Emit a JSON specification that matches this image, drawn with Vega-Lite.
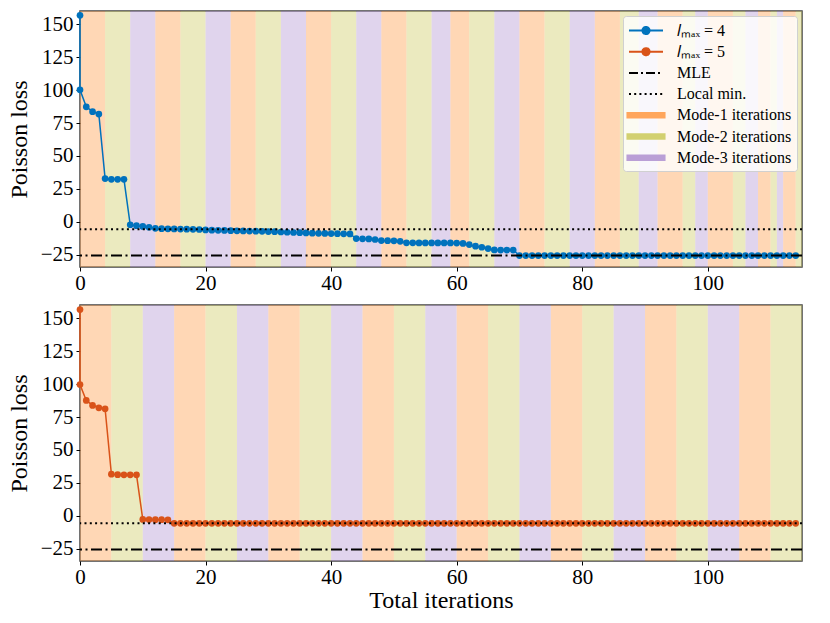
{
  "$schema": "https://vega.github.io/schema/vega-lite/v6.json",
  "background": "white",
  "padding": {"left": 6, "top": 10, "right": 5, "bottom": 5},
  "spacing": 38,
  "bounds": "flush",
  "datasets": {
    "bands_top": [
      {"start": 0, "end": 4, "key": "Mode-1 iterations"},
      {"start": 4, "end": 8, "key": "Mode-2 iterations"},
      {"start": 8, "end": 12, "key": "Mode-3 iterations"},
      {"start": 12, "end": 16, "key": "Mode-1 iterations"},
      {"start": 16, "end": 20, "key": "Mode-2 iterations"},
      {"start": 20, "end": 24, "key": "Mode-3 iterations"},
      {"start": 24, "end": 28, "key": "Mode-1 iterations"},
      {"start": 28, "end": 32, "key": "Mode-2 iterations"},
      {"start": 32, "end": 36, "key": "Mode-3 iterations"},
      {"start": 36, "end": 40, "key": "Mode-1 iterations"},
      {"start": 40, "end": 44, "key": "Mode-2 iterations"},
      {"start": 44, "end": 48, "key": "Mode-3 iterations"},
      {"start": 48, "end": 52, "key": "Mode-1 iterations"},
      {"start": 52, "end": 56, "key": "Mode-2 iterations"},
      {"start": 56, "end": 59, "key": "Mode-3 iterations"},
      {"start": 59, "end": 62, "key": "Mode-1 iterations"},
      {"start": 62, "end": 66, "key": "Mode-2 iterations"},
      {"start": 66, "end": 70, "key": "Mode-3 iterations"},
      {"start": 70, "end": 74, "key": "Mode-1 iterations"},
      {"start": 74, "end": 78, "key": "Mode-2 iterations"},
      {"start": 78, "end": 82, "key": "Mode-3 iterations"},
      {"start": 82, "end": 86, "key": "Mode-1 iterations"},
      {"start": 86, "end": 89, "key": "Mode-2 iterations"},
      {"start": 89, "end": 92, "key": "Mode-3 iterations"},
      {"start": 92, "end": 96, "key": "Mode-1 iterations"},
      {"start": 96, "end": 98, "key": "Mode-2 iterations"},
      {"start": 98, "end": 100, "key": "Mode-3 iterations"},
      {"start": 100, "end": 104, "key": "Mode-1 iterations"},
      {"start": 104, "end": 106, "key": "Mode-2 iterations"},
      {"start": 106, "end": 108, "key": "Mode-3 iterations"},
      {"start": 108, "end": 110, "key": "Mode-1 iterations"},
      {"start": 110, "end": 111, "key": "Mode-2 iterations"},
      {"start": 111, "end": 112, "key": "Mode-3 iterations"},
      {"start": 112, "end": 114, "key": "Mode-1 iterations"},
      {"start": 114, "end": 115, "key": "Mode-2 iterations"}
    ],
    "bands_bottom": [
      {"start": 0, "end": 5, "key": "Mode-1 iterations"},
      {"start": 5, "end": 10, "key": "Mode-2 iterations"},
      {"start": 10, "end": 15, "key": "Mode-3 iterations"},
      {"start": 15, "end": 20, "key": "Mode-1 iterations"},
      {"start": 20, "end": 25, "key": "Mode-2 iterations"},
      {"start": 25, "end": 30, "key": "Mode-3 iterations"},
      {"start": 30, "end": 35, "key": "Mode-1 iterations"},
      {"start": 35, "end": 40, "key": "Mode-2 iterations"},
      {"start": 40, "end": 45, "key": "Mode-3 iterations"},
      {"start": 45, "end": 50, "key": "Mode-1 iterations"},
      {"start": 50, "end": 55, "key": "Mode-2 iterations"},
      {"start": 55, "end": 60, "key": "Mode-3 iterations"},
      {"start": 60, "end": 65, "key": "Mode-1 iterations"},
      {"start": 65, "end": 70, "key": "Mode-2 iterations"},
      {"start": 70, "end": 75, "key": "Mode-3 iterations"},
      {"start": 75, "end": 80, "key": "Mode-1 iterations"},
      {"start": 80, "end": 85, "key": "Mode-2 iterations"},
      {"start": 85, "end": 90, "key": "Mode-3 iterations"},
      {"start": 90, "end": 95, "key": "Mode-1 iterations"},
      {"start": 95, "end": 100, "key": "Mode-2 iterations"},
      {"start": 100, "end": 105, "key": "Mode-3 iterations"},
      {"start": 105, "end": 110, "key": "Mode-1 iterations"},
      {"start": 110, "end": 115, "key": "Mode-2 iterations"}
    ],
    "refs": [
      {"key": "MLE", "y": -25.7},
      {"key": "Local min.", "y": -5.8}
    ],
    "lmax4": [
      {"i": 0, "x": 0, "y": 156.8}, {"i": 1, "x": 0, "y": 100.2}, {"i": 2, "x": 1, "y": 87.3}, {"i": 3, "x": 2, "y": 83.6},
      {"i": 4, "x": 3, "y": 81.8}, {"i": 5, "x": 4, "y": 32.8}, {"i": 6, "x": 5, "y": 32.2}, {"i": 7, "x": 6, "y": 32.2},
      {"i": 8, "x": 7, "y": 32.2}, {"i": 9, "x": 8, "y": -2.3}, {"i": 10, "x": 9, "y": -3.0}, {"i": 11, "x": 10, "y": -3.6},
      {"i": 12, "x": 11, "y": -4.2}, {"i": 13, "x": 12, "y": -5.0}, {"i": 14, "x": 13, "y": -5.3}, {"i": 15, "x": 14, "y": -5.4},
      {"i": 16, "x": 15, "y": -5.5}, {"i": 17, "x": 16, "y": -5.6}, {"i": 18, "x": 17, "y": -5.7}, {"i": 19, "x": 18, "y": -5.8},
      {"i": 20, "x": 19, "y": -5.9}, {"i": 21, "x": 20, "y": -6.2}, {"i": 22, "x": 21, "y": -6.4}, {"i": 23, "x": 22, "y": -6.5},
      {"i": 24, "x": 23, "y": -6.6}, {"i": 25, "x": 24, "y": -6.8}, {"i": 26, "x": 25, "y": -6.9}, {"i": 27, "x": 26, "y": -7.0},
      {"i": 28, "x": 27, "y": -7.1}, {"i": 29, "x": 28, "y": -7.2}, {"i": 30, "x": 29, "y": -7.3}, {"i": 31, "x": 30, "y": -7.5},
      {"i": 32, "x": 31, "y": -7.6}, {"i": 33, "x": 32, "y": -7.8}, {"i": 34, "x": 33, "y": -8.0}, {"i": 35, "x": 34, "y": -8.2},
      {"i": 36, "x": 35, "y": -8.3}, {"i": 37, "x": 36, "y": -8.5}, {"i": 38, "x": 37, "y": -8.7}, {"i": 39, "x": 38, "y": -8.8},
      {"i": 40, "x": 39, "y": -8.9}, {"i": 41, "x": 40, "y": -9.0}, {"i": 42, "x": 41, "y": -9.1}, {"i": 43, "x": 42, "y": -9.2},
      {"i": 44, "x": 43, "y": -9.3}, {"i": 45, "x": 44, "y": -12.8}, {"i": 46, "x": 45, "y": -13.0}, {"i": 47, "x": 46, "y": -13.1},
      {"i": 48, "x": 47, "y": -13.5}, {"i": 49, "x": 48, "y": -14.3}, {"i": 50, "x": 49, "y": -14.4}, {"i": 51, "x": 50, "y": -14.5},
      {"i": 52, "x": 51, "y": -14.9}, {"i": 53, "x": 52, "y": -16.0}, {"i": 54, "x": 53, "y": -16.0}, {"i": 55, "x": 54, "y": -16.1},
      {"i": 56, "x": 55, "y": -16.1}, {"i": 57, "x": 56, "y": -16.1}, {"i": 58, "x": 57, "y": -16.1}, {"i": 59, "x": 58, "y": -16.1},
      {"i": 60, "x": 59, "y": -16.1}, {"i": 61, "x": 60, "y": -16.2}, {"i": 62, "x": 61, "y": -16.5}, {"i": 63, "x": 62, "y": -17.4},
      {"i": 64, "x": 63, "y": -18.6}, {"i": 65, "x": 64, "y": -19.4}, {"i": 66, "x": 65, "y": -20.4}, {"i": 67, "x": 66, "y": -21.4},
      {"i": 68, "x": 67, "y": -21.5}, {"i": 69, "x": 68, "y": -21.5}, {"i": 70, "x": 69, "y": -21.5}, {"i": 71, "x": 70, "y": -25.7},
      {"i": 72, "x": 71, "y": -25.7}, {"i": 73, "x": 72, "y": -25.7}, {"i": 74, "x": 73, "y": -25.7}, {"i": 75, "x": 74, "y": -25.7},
      {"i": 76, "x": 75, "y": -25.7}, {"i": 77, "x": 76, "y": -25.7}, {"i": 78, "x": 77, "y": -25.7}, {"i": 79, "x": 78, "y": -25.7},
      {"i": 80, "x": 79, "y": -25.7}, {"i": 81, "x": 80, "y": -25.7}, {"i": 82, "x": 81, "y": -25.7}, {"i": 83, "x": 82, "y": -25.7},
      {"i": 84, "x": 83, "y": -25.7}, {"i": 85, "x": 84, "y": -25.7}, {"i": 86, "x": 85, "y": -25.7}, {"i": 87, "x": 86, "y": -25.7},
      {"i": 88, "x": 87, "y": -25.7}, {"i": 89, "x": 88, "y": -25.7}, {"i": 90, "x": 89, "y": -25.7}, {"i": 91, "x": 90, "y": -25.7},
      {"i": 92, "x": 91, "y": -25.7}, {"i": 93, "x": 92, "y": -25.7}, {"i": 94, "x": 93, "y": -25.7}, {"i": 95, "x": 94, "y": -25.7},
      {"i": 96, "x": 95, "y": -25.7}, {"i": 97, "x": 96, "y": -25.7}, {"i": 98, "x": 97, "y": -25.7}, {"i": 99, "x": 98, "y": -25.7},
      {"i": 100, "x": 99, "y": -25.7}, {"i": 101, "x": 100, "y": -25.7}, {"i": 102, "x": 101, "y": -25.7}, {"i": 103, "x": 102, "y": -25.7},
      {"i": 104, "x": 103, "y": -25.7}, {"i": 105, "x": 104, "y": -25.7}, {"i": 106, "x": 105, "y": -25.7}, {"i": 107, "x": 106, "y": -25.7},
      {"i": 108, "x": 107, "y": -25.7}, {"i": 109, "x": 108, "y": -25.7}, {"i": 110, "x": 109, "y": -25.7}, {"i": 111, "x": 110, "y": -25.7},
      {"i": 112, "x": 111, "y": -25.7}, {"i": 113, "x": 112, "y": -25.7}, {"i": 114, "x": 113, "y": -25.7}, {"i": 115, "x": 114, "y": -25.7}
    ],
    "lmax5": [
      {"i": 0, "x": 0, "y": 156.6}, {"i": 1, "x": 0, "y": 99.7}, {"i": 2, "x": 1, "y": 87.6}, {"i": 3, "x": 2, "y": 83.8},
      {"i": 4, "x": 3, "y": 82.0}, {"i": 5, "x": 4, "y": 81.2}, {"i": 6, "x": 5, "y": 31.6}, {"i": 7, "x": 6, "y": 31.2},
      {"i": 8, "x": 7, "y": 31.1}, {"i": 9, "x": 8, "y": 31.1}, {"i": 10, "x": 9, "y": 31.1}, {"i": 11, "x": 10, "y": -2.8},
      {"i": 12, "x": 11, "y": -2.9}, {"i": 13, "x": 12, "y": -3.0}, {"i": 14, "x": 13, "y": -3.0}, {"i": 15, "x": 14, "y": -3.1},
      {"i": 16, "x": 15, "y": -5.8}, {"i": 17, "x": 16, "y": -5.8}, {"i": 18, "x": 17, "y": -5.8}, {"i": 19, "x": 18, "y": -5.8},
      {"i": 20, "x": 19, "y": -5.8}, {"i": 21, "x": 20, "y": -5.8}, {"i": 22, "x": 21, "y": -5.8}, {"i": 23, "x": 22, "y": -5.8},
      {"i": 24, "x": 23, "y": -5.8}, {"i": 25, "x": 24, "y": -5.8}, {"i": 26, "x": 25, "y": -5.8}, {"i": 27, "x": 26, "y": -5.8},
      {"i": 28, "x": 27, "y": -5.8}, {"i": 29, "x": 28, "y": -5.8}, {"i": 30, "x": 29, "y": -5.8}, {"i": 31, "x": 30, "y": -5.8},
      {"i": 32, "x": 31, "y": -5.8}, {"i": 33, "x": 32, "y": -5.8}, {"i": 34, "x": 33, "y": -5.8}, {"i": 35, "x": 34, "y": -5.8},
      {"i": 36, "x": 35, "y": -5.8}, {"i": 37, "x": 36, "y": -5.8}, {"i": 38, "x": 37, "y": -5.8}, {"i": 39, "x": 38, "y": -5.8},
      {"i": 40, "x": 39, "y": -5.8}, {"i": 41, "x": 40, "y": -5.8}, {"i": 42, "x": 41, "y": -5.8}, {"i": 43, "x": 42, "y": -5.8},
      {"i": 44, "x": 43, "y": -5.8}, {"i": 45, "x": 44, "y": -5.8}, {"i": 46, "x": 45, "y": -5.8}, {"i": 47, "x": 46, "y": -5.8},
      {"i": 48, "x": 47, "y": -5.8}, {"i": 49, "x": 48, "y": -5.8}, {"i": 50, "x": 49, "y": -5.8}, {"i": 51, "x": 50, "y": -5.8},
      {"i": 52, "x": 51, "y": -5.8}, {"i": 53, "x": 52, "y": -5.8}, {"i": 54, "x": 53, "y": -5.8}, {"i": 55, "x": 54, "y": -5.8},
      {"i": 56, "x": 55, "y": -5.8}, {"i": 57, "x": 56, "y": -5.8}, {"i": 58, "x": 57, "y": -5.8}, {"i": 59, "x": 58, "y": -5.8},
      {"i": 60, "x": 59, "y": -5.8}, {"i": 61, "x": 60, "y": -5.8}, {"i": 62, "x": 61, "y": -5.8}, {"i": 63, "x": 62, "y": -5.8},
      {"i": 64, "x": 63, "y": -5.8}, {"i": 65, "x": 64, "y": -5.8}, {"i": 66, "x": 65, "y": -5.8}, {"i": 67, "x": 66, "y": -5.8},
      {"i": 68, "x": 67, "y": -5.8}, {"i": 69, "x": 68, "y": -5.8}, {"i": 70, "x": 69, "y": -5.8}, {"i": 71, "x": 70, "y": -5.8},
      {"i": 72, "x": 71, "y": -5.8}, {"i": 73, "x": 72, "y": -5.8}, {"i": 74, "x": 73, "y": -5.8}, {"i": 75, "x": 74, "y": -5.8},
      {"i": 76, "x": 75, "y": -5.8}, {"i": 77, "x": 76, "y": -5.8}, {"i": 78, "x": 77, "y": -5.8}, {"i": 79, "x": 78, "y": -5.8},
      {"i": 80, "x": 79, "y": -5.8}, {"i": 81, "x": 80, "y": -5.8}, {"i": 82, "x": 81, "y": -5.8}, {"i": 83, "x": 82, "y": -5.8},
      {"i": 84, "x": 83, "y": -5.8}, {"i": 85, "x": 84, "y": -5.8}, {"i": 86, "x": 85, "y": -5.8}, {"i": 87, "x": 86, "y": -5.8},
      {"i": 88, "x": 87, "y": -5.8}, {"i": 89, "x": 88, "y": -5.8}, {"i": 90, "x": 89, "y": -5.8}, {"i": 91, "x": 90, "y": -5.8},
      {"i": 92, "x": 91, "y": -5.8}, {"i": 93, "x": 92, "y": -5.8}, {"i": 94, "x": 93, "y": -5.8}, {"i": 95, "x": 94, "y": -5.8},
      {"i": 96, "x": 95, "y": -5.8}, {"i": 97, "x": 96, "y": -5.8}, {"i": 98, "x": 97, "y": -5.8}, {"i": 99, "x": 98, "y": -5.8},
      {"i": 100, "x": 99, "y": -5.8}, {"i": 101, "x": 100, "y": -5.8}, {"i": 102, "x": 101, "y": -5.8}, {"i": 103, "x": 102, "y": -5.8},
      {"i": 104, "x": 103, "y": -5.8}, {"i": 105, "x": 104, "y": -5.8}, {"i": 106, "x": 105, "y": -5.8}, {"i": 107, "x": 106, "y": -5.8},
      {"i": 108, "x": 107, "y": -5.8}, {"i": 109, "x": 108, "y": -5.8}, {"i": 110, "x": 109, "y": -5.8}, {"i": 111, "x": 110, "y": -5.8},
      {"i": 112, "x": 111, "y": -5.8}, {"i": 113, "x": 112, "y": -5.8}, {"i": 114, "x": 113, "y": -5.8}, {"i": 115, "x": 114, "y": -5.8}
    ]
  },
  "vconcat": [
    {
      "width": 722,
      "height": 256,
      "layer": [
        {
          "data": {"name": "bands_top"},
          "mark": {"type": "rect", "opacity": 0.45},
          "encoding": {
            "x": {"field": "start", "type": "quantitative", "scale": {"domain": [0, 115], "nice": false, "zero": false},
                  "axis": {"title": null, "values": [0, 20, 40, 60, 80, 100]}},
            "x2": {"field": "end"},
            "color": {
              "field": "key", "type": "nominal",
              "scale": {
                "domain": ["l4", "l5", "MLE", "Local min.", "Mode-1 iterations", "Mode-2 iterations", "Mode-3 iterations"],
                "range": ["#0072BD", "#D95319", "transparent", "transparent", "#FFA65C", "#D2D070", "#BA9FD6"]
              },
              "legend": {
                "title": null,
                "orient": "top-right",
                "offset": 5,
                "labelExpr": "datum.value == 'l4' ? '𝑙ₘₐₓ = 4' : datum.value == 'l5' ? '𝑙ₘₐₓ = 5' : datum.value",
                "symbolType": {"expr": "indexof(['l4','l5'], datum.value) >= 0 ? 'M-1,0H3M1.42,0A0.42,0.42 0 1,1 0.58,0A0.42,0.42 0 1,1 1.42,0Z' : indexof(['MLE','Local min.'], datum.value) >= 0 ? 'M-1,0H3' : 'M-1.3,-0.38H3.3V0.38H-1.3Z'"},
                "symbolStrokeColor": {"expr": "datum.value == 'l4' ? '#0072BD' : datum.value == 'l5' ? '#D95319' : (datum.value == 'MLE' || datum.value == 'Local min.') ? '#000000' : 'transparent'"},
                "symbolDash": {"expr": "datum.value == 'MLE' ? [9, 3, 2, 3] : datum.value == 'Local min.' ? [2, 3.2] : [1, 0]"},
                "symbolStrokeWidth": 2,
                "symbolOpacity": 1
              }
            }
          }
        },
        {
          "data": {"name": "lmax4"},
          "mark": {"type": "line", "color": "#0072BD", "strokeWidth": 1.5,
                   "point": {"filled": true, "size": 45, "color": "#0072BD", "opacity": 1}},
          "encoding": {
            "x": {"field": "x", "type": "quantitative", "scale": {"domain": [0, 115], "nice": false, "zero": false}},
            "y": {"field": "y", "type": "quantitative", "scale": {"domain": [-34.4, 160.1], "nice": false, "zero": false},
                  "axis": {"title": "Poisson loss", "values": [-25, 0, 25, 50, 75, 100, 125, 150], "tickCount": 10, "labelOverlap": false}},
            "order": {"field": "i", "type": "quantitative"}
          }
        },
        {
          "data": {"name": "refs"},
          "transform": [{"filter": "datum.key == 'Local min.'"}],
          "mark": {"type": "rule", "color": "#000000", "strokeWidth": 2, "strokeDash": [2, 3.3]},
          "encoding": {"y": {"field": "y", "type": "quantitative"}}
        },
        {
          "data": {"name": "refs"},
          "transform": [{"filter": "datum.key == 'MLE'"}],
          "mark": {"type": "rule", "color": "#000000", "strokeWidth": 2, "strokeDash": [11, 3.5, 2, 3.5]},
          "encoding": {"y": {"field": "y", "type": "quantitative"}}
        }
      ]
    },
    {
      "width": 722,
      "height": 256,
      "layer": [
        {
          "data": {"name": "bands_bottom"},
          "mark": {"type": "rect", "opacity": 0.45},
          "encoding": {
            "x": {"field": "start", "type": "quantitative", "scale": {"domain": [0, 115], "nice": false, "zero": false},
                  "axis": {"title": "Total iterations", "values": [0, 20, 40, 60, 80, 100]}},
            "x2": {"field": "end"},
            "color": {
              "field": "key", "type": "nominal",
              "scale": {
                "domain": ["l4", "l5", "MLE", "Local min.", "Mode-1 iterations", "Mode-2 iterations", "Mode-3 iterations"],
                "range": ["#0072BD", "#D95319", "transparent", "transparent", "#FFA65C", "#D2D070", "#BA9FD6"]
              },
              "legend": null
            }
          }
        },
        {
          "data": {"name": "lmax5"},
          "mark": {"type": "line", "color": "#D95319", "strokeWidth": 1.5,
                   "point": {"filled": true, "size": 45, "color": "#D95319", "opacity": 1}},
          "encoding": {
            "x": {"field": "x", "type": "quantitative", "scale": {"domain": [0, 115], "nice": false, "zero": false}},
            "y": {"field": "y", "type": "quantitative", "scale": {"domain": [-34.4, 160.1], "nice": false, "zero": false},
                  "axis": {"title": "Poisson loss", "values": [-25, 0, 25, 50, 75, 100, 125, 150], "tickCount": 10, "labelOverlap": false}},
            "order": {"field": "i", "type": "quantitative"}
          }
        },
        {
          "data": {"name": "refs"},
          "transform": [{"filter": "datum.key == 'Local min.'"}],
          "mark": {"type": "rule", "color": "#000000", "strokeWidth": 2, "strokeDash": [2, 3.3]},
          "encoding": {"y": {"field": "y", "type": "quantitative"}}
        },
        {
          "data": {"name": "refs"},
          "transform": [{"filter": "datum.key == 'MLE'"}],
          "mark": {"type": "rule", "color": "#000000", "strokeWidth": 2, "strokeDash": [11, 3.5, 2, 3.5]},
          "encoding": {"y": {"field": "y", "type": "quantitative"}}
        }
      ]
    }
  ],
  "resolve": {"scale": {"color": "independent"}, "legend": {"color": "independent"}},
  "config": {
    "font": "Liberation Serif",
    "view": {"stroke": "#444444", "strokeWidth": 1.5},
    "axis": {
      "labelFont": "Liberation Serif", "labelFontSize": 21, "labelColor": "#000000",
      "titleFont": "Liberation Serif", "titleFontSize": 24, "titleFontWeight": "normal", "titleColor": "#000000",
      "tickColor": "#000000", "tickSize": 4, "tickWidth": 1, "labelPadding": 3,
      "labelOverlap": false, "labelFlush": false,
      "domain": false, "grid": false
    },
    "axisY": {"titlePadding": 9},
    "axisX": {"titlePadding": 1, "labelPadding": 1},
    "legend": {
      "labelFont": "Liberation Serif", "labelFontSize": 16, "labelColor": "#000000",
      "fillColor": "rgba(255,255,255,0.8)", "strokeColor": "#d0d0d0", "cornerRadius": 3, "padding": 5,
      "symbolSize": 289, "rowPadding": 3.2, "labelOffset": 30
    }
  }
}
